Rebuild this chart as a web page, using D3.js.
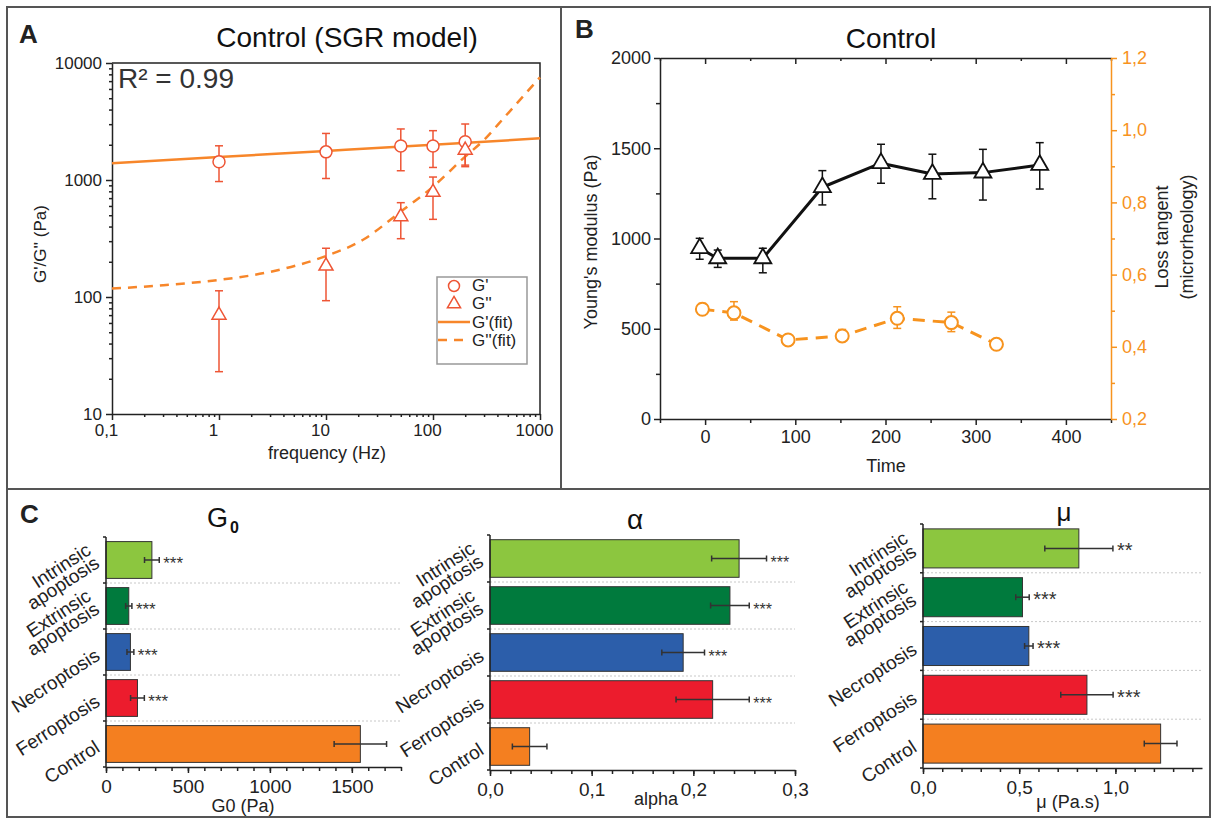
<!DOCTYPE html>
<html>
<head>
<meta charset="utf-8">
<script src="https://cdn.jsdelivr.net/npm/d3@7"></script>
<style>
    body { margin: 0; background: #fff; }
    svg { font-family: "Liberation Sans", Arial, Helvetica, sans-serif; }
    .axis text { font-family: "Liberation Sans", Arial, Helvetica, sans-serif; fill: #222; }
    .axis path, .axis line { stroke: #222; stroke-width: 1.5; }
</style>
</head>
<body>
<div id="chart"></div>
<script>
// ---- panel A: SGR model, control ----
const freq = [1, 10, 50, 100, 200];
const gPrime = [1430, 1740, 1950, 1950, 2120];
const gPrimeLo = [970, 1030, 1200, 1280, 1300];
const gPrimeHi = [1960, 2500, 2730, 2640, 3010];
const gDouble = [70, 184, 486, 785, 1800];
const gDoubleLo = [23, 93, 315, 461, 1340];
const gDoubleHi = [113, 261, 640, 1060, 2050];
const fitFreqA = [0.1, 1, 10, 100, 1000];
const gPrimeFit = [1390, 1570, 1770, 2000, 2270];
const fitFreqB = [0.1, 0.3, 1, 3, 10, 22, 50, 100, 200, 300, 470, 1000];
const gDoubleFit = [118, 126, 140, 164, 224, 307, 537, 877, 1585, 2200, 3475, 7540];
const freqTicks = [0.1, 1, 10, 100, 1000];
const modTicks = [10, 100, 1000, 10000];

// ---- panel B: control over time ----
const timeE = [-6, 14, 64, 130, 195, 252, 308, 371];
const youngs = [946, 890, 890, 1284, 1417, 1357, 1365, 1407];
const youngsLo = [885, 840, 810, 1186, 1306, 1220, 1213, 1274];
const youngsHi = [1001, 936, 946, 1376, 1522, 1467, 1494, 1531];
const timeT = [-3, 32, 92, 152, 213, 273, 323];
const lossTan = [0.504, 0.494, 0.419, 0.43, 0.479, 0.467, 0.407];
const lossLo = [0.49, 0.474, 0.405, 0.415, 0.451, 0.442, 0.4];
const lossHi = [0.52, 0.525, 0.432, 0.448, 0.511, 0.496, 0.412];
const timeTicks = [0, 100, 200, 300, 400];
const youngTicks = [0, 500, 1000, 1500, 2000];
const lossTicks = [0.2, 0.4, 0.6, 0.8, 1.0, 1.2];

// ---- panel C: fit parameters per cell death type ----
const deathTypes = ["Intrinsic apoptosis", "Extrinsic apoptosis", "Necroptosis", "Ferroptosis", "Control"];
const barColors = ["#8cc63f", "#007a3d", "#2c5eaa", "#ec1c2d", "#f47f20"];
const g0 = [280, 139, 149, 192, 1552];
const g0Err = [45, 19, 21, 42, 160];
const alpha = [0.245, 0.236, 0.190, 0.219, 0.039];
const alphaErr = [0.027, 0.019, 0.021, 0.036, 0.017];
const mu = [0.81, 0.517, 0.55, 0.852, 1.235];
const muErr = [0.177, 0.035, 0.022, 0.136, 0.085];
const g0Stars = ["***", "***", "***", "***", ""];
const alphaStars = ["***", "***", "***", "***", ""];
const muStars = ["**", "***", "***", "***", ""];
const g0Ticks = [0, 500, 1000, 1500];
const alphaTicks = [0, 0.1, 0.2, 0.3];
const muTicks = [0, 0.5, 1.0];

const comma = (fmt) => (d) => fmt(d).replace('.', ',');

const svg = d3.select('#chart')
    .append('svg')
    .attr('width', 1213)
    .attr('height', 819);

// frame
svg.append('rect')
    .attr('x', 7).attr('y', 7)
    .attr('width', 1203).attr('height', 810)
    .attr('fill', 'none').attr('stroke', '#555').attr('stroke-width', 2);
svg.append('line').attr('x1', 561).attr('x2', 561).attr('y1', 7).attr('y2', 489)
    .attr('stroke', '#555').attr('stroke-width', 2);
svg.append('line').attr('x1', 7).attr('x2', 1210).attr('y1', 489).attr('y2', 489)
    .attr('stroke', '#555').attr('stroke-width', 2);

function panelLetter(t, x, y) {
    svg.append('text').attr('x', x).attr('y', y)
        .style('font-size', '26px').style('font-weight', 'bold').attr('fill', '#222')
        .text(t);
}

function logMinor(lo, hi) {
    const out = [];
    for (let p = lo; p < hi; p *= 10) {
        for (let k = 2; k <= 9; k++) out.push(p * k);
    }
    return out;
}

function errBars(g, xs, lo, hi, x, y, color, cap) {
    xs.forEach((xv, i) => {
        const cx = x(xv);
        g.append('line').attr('x1', cx).attr('x2', cx).attr('y1', y(lo[i])).attr('y2', y(hi[i]))
            .attr('stroke', color).attr('stroke-width', 1.5);
        [lo[i], hi[i]].forEach(v => {
            g.append('line').attr('x1', cx - cap).attr('x2', cx + cap).attr('y1', y(v)).attr('y2', y(v))
                .attr('stroke', color).attr('stroke-width', 1.5);
        });
    });
}

// =================== Panel A ===================
const pa = svg.append('g');
const xA = d3.scaleLog().domain([0.1, 1000]).range([112, 540]);
const yA = d3.scaleLog().domain([10, 10000]).range([414, 63]);
const redA = '#ee5535';
const orangeA = '#f7862a';

pa.append('g').attr('class', 'axis').attr('transform', 'translate(0,414)')
    .call(d3.axisBottom(xA).tickValues(logMinor(0.1, 1000)).tickFormat('').tickSize(3).tickSizeOuter(0))
    .call(g => g.select('.domain').remove());
pa.append('g').attr('class', 'axis').attr('transform', 'translate(0,414)')
    .call(d3.axisBottom(xA).tickValues(freqTicks).tickFormat(comma(d3.format('~g'))).tickSize(6).tickPadding(4).tickSizeOuter(0))
    .call(g => g.selectAll('text').style('font-size', '17px').attr('dx', -6));
pa.append('g').attr('class', 'axis').attr('transform', 'translate(112,0)')
    .call(d3.axisLeft(yA).tickValues(logMinor(10, 10000)).tickFormat('').tickSize(3).tickSizeOuter(0))
    .call(g => g.select('.domain').remove());
pa.append('g').attr('class', 'axis').attr('transform', 'translate(112,0)')
    .call(d3.axisLeft(yA).tickValues(modTicks).tickFormat(d3.format('d')).tickSize(6).tickPadding(4).tickSizeOuter(0))
    .call(g => g.selectAll('text').style('font-size', '17px'));
pa.append('path')
    .attr('d', `M112,63H540V414`)
    .attr('fill', 'none').attr('stroke', '#222').attr('stroke-width', 1.5);

const lineA = d3.line().curve(d3.curveMonotoneX);
pa.append('path')
    .attr('d', lineA(fitFreqA.map((f, i) => [xA(f), yA(gPrimeFit[i])])))
    .attr('fill', 'none').attr('stroke', orangeA).attr('stroke-width', 2.5);
pa.append('path')
    .attr('d', lineA(fitFreqB.map((f, i) => [xA(f), yA(gDoubleFit[i])])))
    .attr('fill', 'none').attr('stroke', orangeA).attr('stroke-width', 2.5)
    .attr('stroke-dasharray', '9,7');

errBars(pa, freq, gPrimeLo, gPrimeHi, xA, yA, redA, 4);
errBars(pa, freq, gDoubleLo, gDoubleHi, xA, yA, redA, 4);

pa.selectAll('.gp').data(freq).enter().append('circle')
    .attr('cx', d => xA(d)).attr('cy', (d, i) => yA(gPrime[i])).attr('r', 6)
    .attr('fill', '#fff').attr('stroke', redA).attr('stroke-width', 1.5);
pa.selectAll('.gdp').data(freq).enter().append('path')
    .attr('d', d3.symbol(d3.symbolTriangle).size(85))
    .attr('transform', (d, i) => `translate(${xA(d)},${yA(gDouble[i])})`)
    .attr('fill', '#fff').attr('stroke', redA).attr('stroke-width', 1.5);

pa.append('text').attr('x', 347).attr('y', 47).attr('text-anchor', 'middle')
    .style('font-size', '28px').attr('fill', '#111').text('Control (SGR model)');
pa.append('text').attr('x', 118).attr('y', 88)
    .style('font-size', '28px').attr('fill', '#333').text('R² = 0.99');
pa.append('text').attr('transform', 'translate(46,244) rotate(-90)').attr('text-anchor', 'middle')
    .style('font-size', '17px').attr('fill', '#222').text("G'/G'' (Pa)");
pa.append('text').attr('x', 327).attr('y', 459).attr('text-anchor', 'middle')
    .style('font-size', '18px').attr('fill', '#222').text('frequency (Hz)');

// legend
const lg = pa.append('g');
lg.append('rect').attr('x', 437).attr('y', 277).attr('width', 90).attr('height', 87)
    .attr('fill', '#fff').attr('stroke', '#999').attr('stroke-width', 1.5);
lg.append('circle').attr('cx', 454).attr('cy', 286).attr('r', 5.5)
    .attr('fill', '#fff').attr('stroke', redA).attr('stroke-width', 1.5);
lg.append('path').attr('d', d3.symbol(d3.symbolTriangle).size(75))
    .attr('transform', 'translate(454,304)')
    .attr('fill', '#fff').attr('stroke', redA).attr('stroke-width', 1.5);
lg.append('line').attr('x1', 438).attr('x2', 470).attr('y1', 322).attr('y2', 322)
    .attr('stroke', orangeA).attr('stroke-width', 2.5);
lg.append('line').attr('x1', 438).attr('x2', 470).attr('y1', 340).attr('y2', 340)
    .attr('stroke', orangeA).attr('stroke-width', 2.5).attr('stroke-dasharray', '9,7');
[["G'", 291], ["G''", 309], ["G'(fit)", 328], ["G''(fit)", 346]].forEach(([t, y]) => {
    lg.append('text').attr('x', 472).attr('y', y).style('font-size', '17px').attr('fill', '#222').text(t);
});

panelLetter('A', 19, 43);

// =================== Panel B ===================
const pb = svg.append('g');
const xB = d3.scaleLinear().domain([-50, 450]).range([660, 1111]);
const yB = d3.scaleLinear().domain([0, 2000]).range([419, 58]);
const yB2 = d3.scaleLinear().domain([0.2, 1.2]).range([419, 58]);
const orangeB = '#f7931e';

pb.append('g').attr('class', 'axis').attr('transform', 'translate(0,419)')
    .call(d3.axisBottom(xB).tickValues(d3.range(-50, 451, 100)).tickFormat('').tickSize(4).tickSizeOuter(0))
    .call(g => g.select('.domain').remove());
pb.append('g').attr('class', 'axis').attr('transform', 'translate(0,419)')
    .call(d3.axisBottom(xB).tickValues(timeTicks).tickFormat(d3.format('d')).tickSize(6).tickPadding(5).tickSizeOuter(0))
    .call(g => g.selectAll('text').style('font-size', '18px'));
pb.append('g').attr('class', 'axis').attr('transform', 'translate(0,58)')
    .call(d3.axisTop(xB).tickValues(d3.range(-50, 451, 100)).tickFormat('').tickSize(-3).tickSizeOuter(0))
    .call(g => g.select('.domain').remove());
pb.append('g').attr('class', 'axis').attr('transform', 'translate(0,58)')
    .call(d3.axisTop(xB).tickValues(timeTicks).tickFormat('').tickSize(-6).tickSizeOuter(0));
pb.append('g').attr('class', 'axis').attr('transform', 'translate(660,0)')
    .call(d3.axisLeft(yB).tickValues(d3.range(250, 2000, 500)).tickFormat('').tickSize(4).tickSizeOuter(0))
    .call(g => g.select('.domain').remove());
pb.append('g').attr('class', 'axis').attr('transform', 'translate(660,0)')
    .call(d3.axisLeft(yB).tickValues(youngTicks).tickFormat(d3.format('d')).tickSize(6).tickPadding(3).tickSizeOuter(0))
    .call(g => g.selectAll('text').style('font-size', '18px'));
const rightAx = pb.append('g').attr('class', 'axis').attr('transform', 'translate(1111,0)');
rightAx.call(d3.axisRight(yB2).tickValues(d3.range(0.3, 1.2, 0.2)).tickFormat('').tickSize(4).tickSizeOuter(0))
    .call(g => g.select('.domain').remove());
rightAx.append('g')
    .call(d3.axisRight(yB2).tickValues(lossTicks).tickFormat(comma(d3.format('.1f'))).tickSize(6).tickPadding(5).tickSizeOuter(0))
    .call(g => g.selectAll('text').style('font-size', '18px'));
rightAx.selectAll('line, path').style('stroke', orangeB);
rightAx.selectAll('text').style('fill', orangeB);

// black Young's modulus series
pb.append('path')
    .attr('d', d3.line()(timeE.map((t, i) => [xB(t), yB(youngs[i])])))
    .attr('fill', 'none').attr('stroke', '#111').attr('stroke-width', 3).attr('stroke-linejoin', 'round');
errBars(pb, timeE, youngsLo, youngsHi, xB, yB, '#111', 4);
pb.selectAll('.tri').data(timeE).enter().append('path')
    .attr('d', d3.symbol(d3.symbolTriangle).size(125))
    .attr('transform', (d, i) => `translate(${xB(d)},${yB(youngs[i])})`)
    .attr('fill', '#fff').attr('stroke', '#111').attr('stroke-width', 1.8);

// orange loss tangent series
pb.append('path')
    .attr('d', d3.line()(timeT.map((t, i) => [xB(t), yB2(lossTan[i])])))
    .attr('fill', 'none').attr('stroke', orangeB).attr('stroke-width', 3)
    .attr('stroke-dasharray', '12,8');
errBars(pb, timeT, lossLo, lossHi, xB, yB2, orangeB, 4);
pb.selectAll('.circ').data(timeT).enter().append('circle')
    .attr('cx', d => xB(d)).attr('cy', (d, i) => yB2(lossTan[i])).attr('r', 6.5)
    .attr('fill', '#fff').attr('stroke', orangeB).attr('stroke-width', 2);

pb.append('text').attr('x', 891).attr('y', 48).attr('text-anchor', 'middle')
    .style('font-size', '28px').attr('fill', '#111').text('Control');
pb.append('text').attr('transform', 'translate(597,242) rotate(-90)').attr('text-anchor', 'middle')
    .style('font-size', '18px').attr('fill', '#222').text("Young's modulus (Pa)");
pb.append('text').attr('transform', 'translate(1168,237) rotate(-90)').attr('text-anchor', 'middle')
    .style('font-size', '18px').attr('fill', '#222').text('Loss tangent');
pb.append('text').attr('transform', 'translate(1193,237) rotate(-90)').attr('text-anchor', 'middle')
    .style('font-size', '18px').attr('fill', '#222').text('(microrheology)');
pb.append('text').attr('x', 886).attr('y', 472).attr('text-anchor', 'middle')
    .style('font-size', '18px').attr('fill', '#222').text('Time');

panelLetter('B', 575, 38);

// =================== Panel C ===================
function barChart(o) {
    const g = svg.append('g');
    const x = d3.scaleLinear().domain([0, o.max]).range([o.x0, o.x1]);
    const y = d3.scaleBand().domain(deathTypes).range([o.top, o.bottom])
        .paddingInner(0.2).paddingOuter(0.1);
    const step = y.step();
    const edges = deathTypes.map(d => y(d) - step * 0.1).concat([o.bottom]);

    // dotted separators
    edges.slice(1, 5).forEach(e => {
        g.append('line').attr('x1', o.x0).attr('x2', o.x1).attr('y1', e).attr('y2', e)
            .attr('stroke', '#c8c8c8').attr('stroke-width', 1).attr('stroke-dasharray', '2,2');
    });

    g.selectAll('.bar').data(deathTypes).enter().append('rect')
        .attr('x', o.x0)
        .attr('y', d => y(d))
        .attr('width', (d, i) => x(o.values[i]) - o.x0)
        .attr('height', y.bandwidth())
        .attr('fill', (d, i) => barColors[i])
        .attr('stroke', '#333').attr('stroke-width', 1);

    deathTypes.forEach((d, i) => {
        const cy = y(d) + y.bandwidth() / 2;
        const a = x(o.values[i] - o.errs[i]), b = x(o.values[i] + o.errs[i]);
        g.append('line').attr('x1', a).attr('x2', b).attr('y1', cy).attr('y2', cy)
            .attr('stroke', '#333').attr('stroke-width', 1.5);
        [a, b].forEach(v => {
            g.append('line').attr('x1', v).attr('x2', v).attr('y1', cy - 3).attr('y2', cy + 3)
                .attr('stroke', '#333').attr('stroke-width', 1.5);
        });
        if (o.stars[i]) {
            g.append('text').attr('x', b + 4).attr('y', cy + 9)
                .style('font-size', o.starSize + 'px').attr('fill', '#333').text(o.stars[i]);
        }
        const lines = d.split(' ');
        const t = g.append('text')
            .attr('transform', `translate(${o.x0 - 8},${cy + 2}) rotate(-33)`)
            .attr('text-anchor', 'end')
            .style('font-size', '19px').attr('fill', '#222');
        lines.forEach((l, k) => {
            t.append('tspan').attr('x', 0)
                .attr('dy', lines.length === 1 ? '0.3em' : (k === 0 ? '-0.55em' : '0.82em'))
                .text(l);
        });
    });

    // left axis with band ticks
    g.append('line').attr('x1', o.x0).attr('x2', o.x0).attr('y1', o.top).attr('y2', o.bottom)
        .attr('stroke', '#222').attr('stroke-width', 1.5);
    [o.top].concat(edges.slice(1)).forEach(e => {
        g.append('line').attr('x1', o.x0 - 3).attr('x2', o.x0).attr('y1', e).attr('y2', e)
            .attr('stroke', '#222').attr('stroke-width', 1.5);
    });

    g.append('g').attr('class', 'axis').attr('transform', `translate(0,${o.bottom})`)
        .call(d3.axisBottom(x).tickValues(o.minor).tickFormat('').tickSize(4).tickSizeOuter(0));
    g.append('g').attr('class', 'axis').attr('transform', `translate(0,${o.bottom})`)
        .call(d3.axisBottom(x).tickValues(o.ticks).tickFormat(o.fmt).tickSize(6).tickPadding(7).tickSizeOuter(0))
        .call(s => s.select('.domain').remove())
        .call(s => s.selectAll('text').style('font-size', '19px'));

    g.append('text').attr('x', o.labelX).attr('y', o.labelY).attr('text-anchor', 'middle')
        .style('font-size', '18px').attr('fill', '#222').text(o.label);
    return g;
}

barChart({
    values: g0, errs: g0Err, stars: g0Stars, starSize: 17,
    x0: 106, x1: 401, max: 1800, top: 537, bottom: 767,
    ticks: g0Ticks, minor: d3.range(0, 1801, 100), fmt: d3.format('d'),
    label: 'G0 (Pa)', labelX: 243, labelY: 812
});
const gTitle = svg.append('text').attr('x', 207).attr('y', 527).style('font-size', '27px').attr('fill', '#111');
gTitle.append('tspan').text('G');
gTitle.append('tspan').attr('dy', 6).attr('dx', 2).style('font-size', '16px').style('font-weight', 'bold').text('0');

barChart({
    values: alpha, errs: alphaErr, stars: alphaStars, starSize: 16,
    x0: 490, x1: 795, max: 0.3, top: 535, bottom: 770,
    ticks: alphaTicks, minor: d3.range(0, 0.3001, 0.02), fmt: comma(d3.format('.1f')),
    label: 'alpha', labelX: 656, labelY: 805
});
svg.append('text').attr('x', 635).attr('y', 529).attr('text-anchor', 'middle')
    .style('font-size', '28px').attr('fill', '#111').text('α');

barChart({
    values: mu, errs: muErr, stars: muStars, starSize: 20,
    x0: 923, x1: 1202, max: 1.45, top: 524, bottom: 768,
    ticks: muTicks, minor: d3.range(0, 1.41, 0.1), fmt: comma(d3.format('.1f')),
    label: 'μ (Pa.s)', labelX: 1068, labelY: 808
});
svg.append('text').attr('x', 1064).attr('y', 521).attr('text-anchor', 'middle')
    .style('font-size', '26px').attr('fill', '#111').text('μ');

panelLetter('C', 20, 523);
</script>
</body>
</html>
